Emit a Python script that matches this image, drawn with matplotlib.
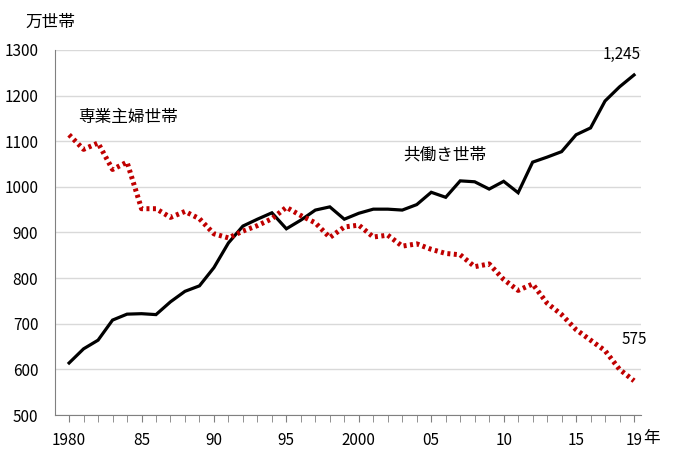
import numpy as np
import matplotlib
matplotlib.use("Agg")
import matplotlib.pyplot as plt

plt.rcParams['font.family'] = ['Noto Sans CJK JP', 'DejaVu Sans']

years = list(range(1980, 2020))
dual_income = [614, 645, 664, 708, 721, 722, 720, 748, 771, 783,
               823, 877, 914, 929, 943, 908, 927, 949, 956, 929,
               942, 951, 951, 949, 961, 988, 977, 1013, 1011, 995,
               1012, 987, 1054, 1065, 1077, 1114, 1129, 1188, 1219, 1245]
housewife = [1114, 1082, 1096, 1038, 1054, 952, 952, 933, 946, 930,
             897, 888, 903, 915, 930, 955, 937, 921, 889, 912,
             916, 890, 894, 870, 875, 863, 854, 851, 825, 831,
             797, 773, 787, 745, 720, 687, 664, 641, 600, 575]
tick_years = [1980, 1985, 1990, 1995, 2000, 2005, 2010, 2015, 2019]
tick_labels = ['1980', '85', '90', '95', '2000', '05', '10', '15', '19']

fig = plt.figure(figsize=(6.94, 4.66), dpi=100)
ax = fig.add_axes([0.0793, 0.1094, 0.8443, 0.7836])

ax.plot(years, dual_income, color='black', lw=2.3, solid_joinstyle='miter')
ax.plot(years, housewife, color='#C00000', lw=3.6, linestyle=(0, (0.6, 0.7)),
        dash_capstyle='butt')

ax.set_xlim(1979.03, 2019.48)
ax.set_ylim(500, 1300)
ax.set_yticks(np.arange(500, 1301, 100))
ax.yaxis.grid(True, color='#d9d9d9', lw=1)
ax.set_axisbelow(True)
ax.tick_params(axis='y', length=0, labelsize=11, pad=12)

ax.set_xticks(years, minor=True)
ax.set_xticks(tick_years)
ax.set_xticklabels(tick_labels, fontsize=11)
ax.tick_params(axis='x', which='both', direction='out', length=5, color='#808080', pad=7)

for s in ['top', 'right']:
    ax.spines[s].set_visible(False)
for s in ['left', 'bottom']:
    ax.spines[s].set_color('#808080')

fig.text(25 / 694, 1 - 22 / 466, '万世帯', fontsize=12, va='center', ha='left')
fig.text(652 / 694, 1 - 439 / 466, '年', fontsize=12, va='center', ha='center')
ax.text(78 / 694, 1 - 117 / 466, '専業主婦世帯', fontsize=12, va='center', ha='left',
        transform=fig.transFigure)
ax.text(403 / 694, 1 - 155 / 466, '共働き世帯', fontsize=12, va='center', ha='left',
        transform=fig.transFigure)
ax.annotate(f'{dual_income[-1]:,}', (years[-1], dual_income[-1]), xytext=(-12, 20),
            textcoords='offset pixels', ha='center', va='center', fontsize=11)
ax.annotate(f'{housewife[-1]:,}', (years[-1], housewife[-1]), xytext=(0, 41),
            textcoords='offset pixels', ha='center', va='center', fontsize=11)

fig.savefig('out.png', dpi=100)
